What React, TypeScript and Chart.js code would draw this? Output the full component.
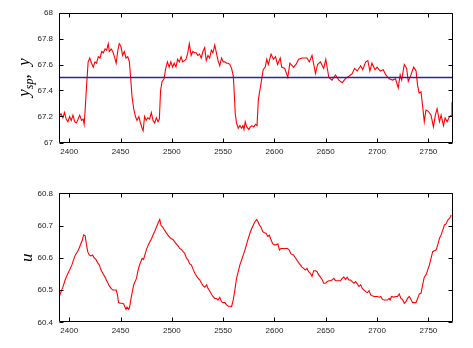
import React, { useEffect, useRef } from "react";
import { Chart, registerables } from "chart.js";

Chart.register(...registerables);

// ---------- DATA ----------
const xRange = [2390, 2774];
const xTicks = [2400, 2450, 2500, 2550, 2600, 2650, 2700, 2750];

const setpoint = 67.5;
const topYTicks = [67, 67.2, 67.4, 67.6, 67.8, 68];
const botYTicks = [60.4, 60.5, 60.6, 60.7, 60.8];

const topX = [
  2390, 2392, 2393.8, 2395.4, 2397, 2398.7, 2400.3, 2402, 2403.6, 2405.3, 2407, 2408.6, 2410.2, 2412, 2413.5, 2414.5,
  2415.5, 2416.8, 2418.4, 2420, 2421.7, 2423.4, 2425, 2426.6, 2428.3, 2430, 2431.6, 2433.2, 2434.9, 2436.5, 2438,
  2439, 2440.8, 2442.4, 2444, 2445.7, 2447.4, 2448.7, 2450.3, 2452, 2453.6, 2455.3, 2457, 2458.6, 2460, 2461.2,
  2462.8, 2464.5, 2466, 2467.8, 2469.4, 2471, 2472, 2473.4, 2475, 2476.6, 2478.3, 2480, 2481.6, 2483.2, 2484.9,
  2486.5, 2487.8, 2489, 2490.5, 2492.4, 2494, 2495.7, 2497.4, 2499, 2500.7, 2502.3, 2504, 2505.6, 2507.2, 2509,
  2510.5, 2512.2, 2513.8, 2515.5, 2517, 2518.8, 2520.4, 2522, 2523.7, 2525.3, 2527, 2528.6, 2530.3, 2532, 2533.5,
  2535.2, 2536.8, 2538.5, 2540, 2541.8, 2543.4, 2545, 2546.7, 2548.4, 2550, 2551.6, 2553.3, 2555, 2556.6, 2558.2,
  2559.9, 2560.8, 2561.8, 2563, 2564.7, 2566.3, 2568, 2569.3, 2570.3, 2571.5, 2573, 2575, 2576.5, 2578, 2579.8,
  2581.6, 2583, 2584.3, 2587, 2589, 2591, 2592.5, 2594, 2596.7, 2599, 2601, 2603, 2605.6, 2607, 2610, 2613, 2615,
  2618.6, 2621, 2623.5, 2627, 2631.7, 2634, 2636.6, 2640, 2642, 2644.8, 2648, 2650, 2653, 2656, 2659.5, 2662.7,
  2666, 2669, 2672.5, 2675.8, 2678, 2680.7, 2684, 2686, 2689, 2691, 2693, 2695, 2698, 2700, 2703, 2706, 2708.5,
  2711.8, 2715, 2718, 2720.6, 2722.5, 2724, 2726.5, 2728.8, 2730.4, 2733, 2735.6, 2738, 2739.5, 2741, 2742.8,
  2744.4, 2746, 2747.6, 2750, 2752.6, 2754.9, 2756.8, 2758.5, 2760.8, 2762.4, 2764.7, 2766.3, 2768.3, 2770.6,
  2772.2, 2773,
];
const topY = [
  67.2, 67.22, 67.19, 67.23, 67.18, 67.16, 67.2, 67.17, 67.21, 67.16, 67.15, 67.18, 67.21, 67.17, 67.18, 67.14,
  67.25, 67.43, 67.62, 67.65, 67.61, 67.58, 67.62, 67.61, 67.66, 67.65, 67.7, 67.69, 67.72, 67.71, 67.76,
  67.7, 67.72, 67.7, 67.66, 67.61, 67.71, 67.76, 67.74, 67.67, 67.7, 67.65, 67.66, 67.62, 67.48, 67.35,
  67.26, 67.2, 67.17, 67.2, 67.15, 67.11, 67.09, 67.2, 67.17, 67.19, 67.18, 67.23, 67.17, 67.15, 67.19,
  67.16, 67.18, 67.4, 67.47, 67.49, 67.57, 67.62, 67.58, 67.62, 67.58, 67.61, 67.58, 67.64, 67.62, 67.66,
  67.62, 67.63, 67.64, 67.69, 67.76, 67.67, 67.7, 67.69, 67.69, 67.67, 67.68, 67.65, 67.7, 67.73, 67.63,
  67.67, 67.65, 67.71, 67.69, 67.75, 67.69, 67.63, 67.59, 67.65, 67.62, 67.62, 67.61, 67.61, 67.6, 67.57,
  67.51, 67.38, 67.22, 67.15, 67.11, 67.13, 67.11, 67.13, 67.1, 67.16, 67.12, 67.1, 67.12, 67.13, 67.12,
  67.14, 67.13, 67.33, 67.46, 67.56, 67.58, 67.64, 67.6, 67.68, 67.64, 67.66, 67.6, 67.65, 67.58, 67.57, 67.5, 67.61,
  67.58, 67.6, 67.64, 67.65, 67.65, 67.62, 67.67, 67.53, 67.6, 67.62, 67.57, 67.64, 67.5, 67.48, 67.52, 67.48,
  67.46, 67.49, 67.51, 67.53, 67.57, 67.55, 67.59, 67.56, 67.62, 67.63, 67.55, 67.61, 67.56, 67.58, 67.55, 67.56, 67.52,
  67.49, 67.48, 67.49, 67.42, 67.52, 67.48, 67.6, 67.57, 67.47, 67.52, 67.58, 67.55, 67.44, 67.38, 67.39,
  67.28, 67.16, 67.25, 67.24, 67.21, 67.12, 67.21, 67.26, 67.16, 67.21, 67.13, 67.19, 67.16, 67.2,
  67.21, 67.31,
];

const botX = [
  2389.8, 2391.4, 2393.8, 2396, 2398, 2400.3, 2402.6, 2404.3, 2406, 2408, 2409.5, 2411.2, 2412.8, 2414, 2415.5,
  2416.8, 2418, 2419.4, 2421, 2422.7, 2424.3, 2426, 2427.6, 2429.3, 2431, 2432.6, 2434.2, 2435.9, 2437.5, 2439,
  2440.8, 2442.4, 2444, 2445.7, 2447, 2448, 2449.7, 2451.3, 2453, 2454, 2455.3, 2456.3, 2458, 2458.9, 2460.2,
  2461.5, 2462.8, 2464.1, 2465.5, 2466.8, 2468, 2469.4, 2471, 2472.4, 2473.7, 2475.3, 2477, 2478.6, 2480.3, 2482,
  2483.6, 2485.2, 2486.5, 2488.2, 2489.5, 2491, 2492.8, 2494.4, 2496, 2497.7, 2499.3, 2501, 2502.6, 2504.3, 2506,
  2507.6, 2509.2, 2510.9, 2512.5, 2514.1, 2515.8, 2517.4, 2519, 2520.7, 2522.4, 2524, 2525.7, 2527.3, 2528.9,
  2530.6, 2532.2, 2533.9, 2535.2, 2536.8, 2538.5, 2540, 2541.8, 2543.4, 2545, 2546.7, 2548.4, 2550, 2551.6,
  2553.3, 2555, 2556.6, 2558.2, 2559.8, 2561.4, 2563, 2564.7, 2566.3, 2568, 2569.6, 2571.2, 2572.9, 2574.5,
  2576.1, 2577.8, 2579.4, 2581, 2582.7, 2584, 2585.3, 2586.9, 2588.6, 2590.2, 2591.8, 2593.5, 2595.1, 2596.7,
  2598.4, 2600, 2601.6, 2603.3, 2604.9, 2606.2, 2608.2, 2610.5, 2612.7, 2614.4, 2616, 2618.6, 2620.3, 2621.9,
  2623.5, 2625.2, 2626.8, 2628.4, 2630, 2631.7, 2633.3, 2635, 2636.6, 2638.2, 2639.9, 2641.5, 2643.1, 2644.8,
  2646.4, 2648, 2649.7, 2651.3, 2653, 2654.6, 2656.2, 2657.8, 2659.5, 2661.1, 2662.7, 2664.4, 2666, 2667.6,
  2669.3, 2670.9, 2672.5, 2674.2, 2675.8, 2677.5, 2679.1, 2680.7, 2682.4, 2684, 2685.6, 2687.3, 2688.9, 2690.5,
  2692.2, 2693.8, 2695.4, 2697, 2698.7, 2700.3, 2702, 2703.6, 2705.2, 2706.9, 2708.5, 2710.1, 2711.8, 2712.7,
  2714, 2716, 2718.3, 2719.9, 2721.6, 2723.2, 2724.8, 2726.5, 2728.1, 2729.7, 2731.4, 2733, 2734.6, 2736.3,
  2737.9, 2739.5, 2741.2, 2742.8, 2744.4, 2746, 2747.7, 2749.3, 2751, 2752.6, 2754.2, 2755.9, 2757.5, 2759.1,
  2760.8, 2762.4, 2764, 2765.7, 2767.3, 2768.9, 2770.6, 2772.2,
];
const botY = [
  60.474, 60.49, 60.509, 60.531, 60.547, 60.562, 60.578, 60.595, 60.609, 60.619, 60.629, 60.643, 60.655, 60.671, 60.668,
  60.64, 60.619, 60.609, 60.606, 60.609, 60.6, 60.595, 60.585, 60.578, 60.562, 60.552, 60.544, 60.533, 60.523, 60.513,
  60.505, 60.5, 60.5, 60.5, 60.485, 60.461, 60.459, 60.459, 60.457, 60.449, 60.44, 60.447, 60.44, 60.449, 60.474,
  60.495, 60.516, 60.526, 60.536, 60.557, 60.573, 60.585, 60.598, 60.595, 60.609, 60.626, 60.64, 60.65, 60.66, 60.674,
  60.684, 60.697, 60.707, 60.719, 60.7, 60.695, 60.686, 60.678, 60.671, 60.664, 60.66, 60.657, 60.65, 60.643, 60.637,
  60.629, 60.626, 60.619, 60.614, 60.6, 60.593, 60.581, 60.578, 60.564, 60.552, 60.544, 60.536, 60.531, 60.521,
  60.513, 60.509, 60.516, 60.505, 60.498, 60.488, 60.48, 60.474, 60.474, 60.469, 60.477, 60.464, 60.461, 60.461,
  60.454, 60.45, 60.45, 60.449, 60.469, 60.5, 60.536, 60.557, 60.578, 60.593, 60.609, 60.624, 60.643, 60.66,
  60.676, 60.691, 60.702, 60.712, 60.719, 60.712, 60.702, 60.695, 60.681, 60.678, 60.676, 60.666, 60.67, 60.655,
  60.643, 60.64, 60.64, 60.643, 60.624, 60.629, 60.629, 60.629, 60.629, 60.624, 60.612, 60.609, 60.6, 60.593,
  60.585, 60.578, 60.571, 60.567, 60.562, 60.567, 60.557, 60.552, 60.542, 60.56, 60.56, 60.557, 60.547, 60.54,
  60.533, 60.521, 60.521, 60.526, 60.529, 60.529, 60.531, 60.536, 60.529, 60.529, 60.529, 60.529, 60.536, 60.54,
  60.533, 60.54, 60.531, 60.531, 60.526, 60.521, 60.526, 60.519, 60.511, 60.516, 60.505, 60.5, 60.495, 60.492,
  60.498, 60.485, 60.482, 60.48, 60.48, 60.48, 60.478, 60.48, 60.471, 60.469, 60.469, 60.469, 60.474, 60.469,
  60.48, 60.478, 60.48, 60.48, 60.488, 60.474, 60.471, 60.459, 60.464, 60.474, 60.48, 60.471, 60.461, 60.461,
  60.461, 60.474, 60.488, 60.49, 60.516, 60.54, 60.547, 60.562, 60.578, 60.598, 60.619, 60.622, 60.624, 60.64,
  60.66, 60.671, 60.686, 60.702, 60.705, 60.717, 60.722, 60.733,
];

// ---------- STYLE HELPERS ----------
const TICK_FONT = { family: "'Liberation Sans', Arial, sans-serif", size: 8 };
const TICK_COLOR = "#222";
const SP_COLOR = "#2424b4";
const U_COLOR = "#ff0000";

type LabelPart = { t: string; sub?: boolean };

const framePlugin = {
  id: "frame",
  afterDraw(chart: any, _args: any, opts: any) {
    const { ctx, chartArea: a, scales } = chart;
    ctx.save();
    ctx.strokeStyle = "#000";
    ctx.lineWidth = 1;
    const L = Math.round(a.left) + 0.5;
    const R = Math.round(a.right) - 0.5;
    const T = Math.round(a.top) + 0.5;
    const B = Math.round(a.bottom) - 0.5;
    ctx.beginPath();
    ctx.rect(L, T, R - L, B - T);
    const tl = 4;
    scales.x.ticks.forEach((t: any) => {
      const px = Math.round(scales.x.getPixelForValue(t.value)) + 0.5;
      ctx.moveTo(px, B);
      ctx.lineTo(px, B - tl);
      ctx.moveTo(px, T);
      ctx.lineTo(px, T + tl);
    });
    scales.y.ticks.forEach((t: any) => {
      const py = Math.round(scales.y.getPixelForValue(t.value)) + 0.5;
      ctx.moveTo(L, py);
      ctx.lineTo(L + tl, py);
      ctx.moveTo(R, py);
      ctx.lineTo(R - tl, py);
    });
    ctx.stroke();

    // y-axis label (math italic with subscripts)
    const parts: LabelPart[] = opts.parts || [];
    const size = opts.size || 16;
    const big = `italic ${size}px 'Liberation Serif', 'Times New Roman', serif`;
    const small = `italic ${Math.round(size * 0.7)}px 'Liberation Serif', 'Times New Roman', serif`;
    let total = 0;
    const widths = parts.map((p) => {
      ctx.font = p.sub ? small : big;
      const w = ctx.measureText(p.t).width;
      total += w;
      return w;
    });
    const cx = opts.x;
    const cy = (a.top + a.bottom) / 2;
    ctx.translate(cx, cy);
    ctx.rotate(-Math.PI / 2);
    ctx.fillStyle = "#000";
    ctx.textBaseline = "alphabetic";
    ctx.textAlign = "left";
    let pos = -total / 2;
    parts.forEach((p, i) => {
      ctx.font = p.sub ? small : big;
      ctx.fillText(p.t, pos, p.sub ? size * 0.22 : 0);
      pos += widths[i];
    });
    ctx.restore();
  },
};

function fmt(v: number) {
  return String(Math.round(v * 10) / 10);
}

function makeConfig(
  series: { x: number; y: number }[],
  yTicks: number[],
  extra: any[],
  pad: { top: number; bottom: number },
  xAxisHeight: number,
  label: { parts: LabelPart[]; size: number; x: number }
): any {
  return {
    type: "line",
    data: {
      datasets: [
        ...extra,
        {
          data: series,
          borderColor: U_COLOR,
          backgroundColor: U_COLOR,
          borderWidth: 1.1,
          pointRadius: 0,
          tension: 0,
          fill: false,
        },
      ],
    },
    options: {
      responsive: false,
      animation: false,
      devicePixelRatio: 1,
      layout: { padding: { top: pad.top, right: 20, bottom: pad.bottom, left: 0 } },
      plugins: {
        legend: { display: false },
        tooltip: { enabled: false },
        colors: { enabled: false },
        frame: label,
      },
      scales: {
        x: {
          type: "linear",
          min: xRange[0],
          max: xRange[1],
          afterBuildTicks: (s: any) => {
            s.ticks = xTicks.map((v) => ({ value: v }));
          },
          afterFit: (s: any) => {
            s.height = xAxisHeight;
          },
          grid: { display: false, drawTicks: false },
          border: { display: false },
          ticks: {
            font: TICK_FONT,
            color: TICK_COLOR,
            padding: 4,
            maxRotation: 0,
            callback: (v: number) => String(v),
          },
        },
        y: {
          type: "linear",
          min: yTicks[0],
          max: yTicks[yTicks.length - 1],
          afterBuildTicks: (s: any) => {
            s.ticks = yTicks.map((v) => ({ value: v }));
          },
          afterFit: (s: any) => {
            s.width = 59;
          },
          grid: { display: false, drawTicks: false },
          border: { display: false },
          ticks: {
            font: TICK_FONT,
            color: TICK_COLOR,
            padding: 6,
            callback: (v: number) => fmt(v),
          },
        },
      },
    },
    plugins: [framePlugin],
  };
}

export default function App() {
  const topRef = useRef<HTMLCanvasElement>(null);
  const botRef = useRef<HTMLCanvasElement>(null);

  useEffect(() => {
    const topSeries = topX.map((x, i) => ({ x, y: topY[i] }));
    const botSeries = botX.map((x, i) => ({ x, y: botY[i] }));
    const spLine = {
      data: [
        { x: xRange[0], y: setpoint },
        { x: xRange[1], y: setpoint },
      ],
      borderColor: SP_COLOR,
      backgroundColor: SP_COLOR,
      borderWidth: 1.6,
      pointRadius: 0,
      fill: false,
    };
    const c1 = new Chart(
      topRef.current as HTMLCanvasElement,
      makeConfig(topSeries, topYTicks, [spLine], { top: 12.5, bottom: 0 }, 27.5, {
        parts: [{ t: "y" }, { t: "sp", sub: true }, { t: ",  y" }],
        size: 17,
        x: 29,
      })
    );
    const c2 = new Chart(
      botRef.current as HTMLCanvasElement,
      makeConfig(botSeries, botYTicks, [], { top: 23.3, bottom: 0 }, 25.7, {
        parts: [{ t: "u" }],
        size: 17,
        x: 32,
      })
    );
    return () => {
      c1.destroy();
      c2.destroy();
    };
  }, []);

  return (
    <div
      style={{
        position: "fixed",
        left: 0,
        top: 0,
        width: 473,
        height: 348,
        background: "#fff",
      }}
    >
      <canvas ref={topRef} width={473} height={170} style={{ position: "absolute", left: 0, top: 0, width: 473, height: 170 }} />
      <canvas ref={botRef} width={473} height={178} style={{ position: "absolute", left: 0, top: 170, width: 473, height: 178 }} />
    </div>
  );
}
